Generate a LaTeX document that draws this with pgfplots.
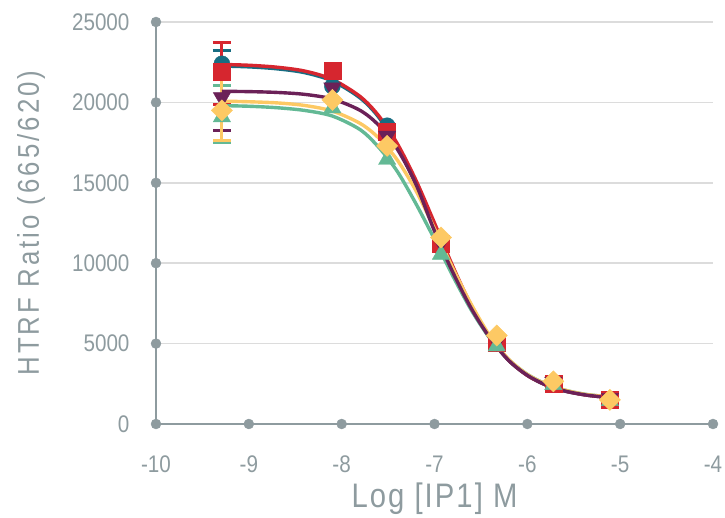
\documentclass[border=0pt]{standalone}
\usepackage{fontspec}
\setmainfont{Liberation Sans}[FakeStretch=0.86]
\usepackage{pgfplots}
\pgfplotsset{compat=1.18}

\definecolor{axisgray}{HTML}{8E9B9F}
\definecolor{gridgray}{HTML}{DCDCDC}
\definecolor{cteal}{HTML}{176D82}
\definecolor{cred}{HTML}{D6262F}
\definecolor{cpurple}{HTML}{6B2158}
\definecolor{cgreen}{HTML}{63B995}
\definecolor{cyellow}{HTML}{FDC964}

\pgfplotsset{
  ebar/.style={only marks, mark=none, forget plot,
    error bars/.cd, y dir=both, y explicit,
    error bar style={line width=3pt, color=#1},
    error mark options={rotate=90, mark size=9pt, line width=3pt, color=#1}},
  fitline/.style={no markers, smooth, line width=3.4pt, color=#1},
}

\begin{document}
\begin{tikzpicture}
\useasboundingbox (0,0) rectangle (725pt,518pt);
\begin{axis}[
  at={(156pt,94pt)}, anchor=south west,
  scale only axis, width=557pt, height=402pt,
  xmin=-10, xmax=-4, ymin=0, ymax=25000,
  scaled y ticks=false,
  clip=false,
  axis x line*=bottom, axis y line*=left,
  axis line style={draw=axisgray, line width=2.5pt, -},
  major tick length=0pt,
  xtick={-10,-9,-8,-7,-6,-5,-4},
  xticklabels={-10,-9,-8,-7,-6,-5,-4},
  ytick={0,5000,10000,15000,20000,25000},
  yticklabels={0,5000,10000,15000,20000,25000},
  ymajorgrids, grid style={draw=gridgray, line width=1.5pt},
  every tick label/.append style={font=\fontsize{24}{27}\selectfont, text=axisgray},
  yticklabel style={xshift=-23pt},
  xticklabel style={yshift=-28pt},
  xlabel={Log [IP1] M},
  ylabel={HTRF Ratio (665/620)},
  xlabel style={at={(axis description cs:0.5,-0.187)}, anchor=center,
    font=\addfontfeature{LetterSpace=6}\fontsize{34}{38}\selectfont, text=axisgray},
  ylabel style={at={(axis description cs:-0.224,0.5)}, anchor=center, rotate=0,
    font=\addfontfeature{LetterSpace=10}\fontsize{30}{34}\selectfont, text=axisgray},
]
% dots on the axis lines at every tick
\addplot[only marks, mark=*, mark size=5pt, color=axisgray, forget plot]
  coordinates {(-10,0) (-9,0) (-8,0) (-7,0) (-6,0) (-5,0) (-4,0)
               (-10,5000) (-10,10000) (-10,15000) (-10,20000) (-10,25000)};

% error bars of the lowest concentration
\addplot[ebar=cteal] coordinates {(-9.29,22400) +- (0,800)};
\addplot[ebar=cred] coordinates {(-9.29,21800) +- (0,1950)};
\addplot[ebar=cpurple] coordinates {(-9.29,20150) +- (0,1870)};
\addplot[ebar=cgreen] coordinates {(-9.29,19300) +- (0,1780)};
\addplot[ebar=cyellow] coordinates {(-9.29,19550) +- (0,1900)};

% measured points
\addplot[only marks, mark=*, mark size=8pt, color=cteal] coordinates {
  (-9.29,22400) (-8.10,21000) (-7.51,18550) (-6.93,11000) (-6.33,5000) (-5.72,2550) (-5.11,1550)};
\addplot[only marks, mark=square*, mark size=8.5pt, color=cred] coordinates {
  (-9.29,21900) (-8.10,22000) (-7.51,18200) (-6.93,11200) (-6.33,5050) (-5.72,2500) (-5.11,1500)};
\addplot[only marks, mark=triangle*, mark size=10pt, mark options={rotate=180}, color=cpurple] coordinates {
  (-9.29,20300) (-8.10,20900) (-7.51,17900) (-6.93,11300) (-6.33,5150) (-5.72,2600) (-5.11,1600)};
\addplot[only marks, mark=triangle*, mark size=10pt, color=cgreen] coordinates {
  (-9.29,19100) (-8.10,19650) (-7.51,16450) (-6.93,10550) (-6.33,4850) (-5.72,2450) (-5.11,1450)};
\addplot[only marks, mark=square*, mark size=7.5pt, mark options={rotate=45}, color=cyellow] coordinates {
  (-9.29,19500) (-8.10,20150) (-7.51,17300) (-6.93,11600) (-6.33,5500) (-5.72,2650) (-5.11,1500)};

% fitted dose-response curves
\addplot[fitline=cteal] coordinates {
  (-9.29,22260) (-9.0,22210) (-8.7,22090) (-8.4,21850) (-8.1,21330) (-7.8,20270)
  (-7.6,19070) (-7.4,17250) (-7.2,14950) (-7.0,12300) (-6.8,9600) (-6.6,7250)
  (-6.4,5350) (-6.2,3950) (-6.0,3020) (-5.8,2420) (-5.6,2050) (-5.4,1830) (-5.25,1720) (-5.11,1650)};
\addplot[fitline=cred] coordinates {
  (-9.29,22360) (-9.0,22310) (-8.7,22190) (-8.4,21950) (-8.1,21430) (-7.8,20360)
  (-7.6,19160) (-7.4,17430) (-7.2,15160) (-7.0,12500) (-6.8,9770) (-6.6,7320)
  (-6.4,5370) (-6.2,3960) (-6.0,3020) (-5.8,2430) (-5.6,2060) (-5.4,1830) (-5.25,1720) (-5.11,1650)};
\addplot[fitline=cgreen] coordinates {
  (-9.29,19800) (-9.0,19760) (-8.7,19670) (-8.4,19500) (-8.1,19150) (-7.8,18300)
  (-7.6,17200) (-7.4,15700) (-7.2,13700) (-7.0,11490) (-6.8,9180) (-6.6,7050)
  (-6.4,5300) (-6.2,4000) (-6.0,3090) (-5.8,2490) (-5.6,2110) (-5.4,1870) (-5.25,1760) (-5.11,1680)};
\addplot[fitline=cyellow] coordinates {
  (-9.29,20080) (-9.0,20040) (-8.7,19970) (-8.4,19810) (-8.1,19460) (-7.8,18690)
  (-7.6,17780) (-7.4,16410) (-7.2,14510) (-7.0,12150) (-6.8,9650) (-6.6,7400)
  (-6.4,5450) (-6.2,4020) (-6.0,3080) (-5.8,2480) (-5.6,2110) (-5.4,1860) (-5.25,1760) (-5.11,1680)};
\addplot[fitline=cpurple] coordinates {
  (-9.29,20690) (-9.0,20670) (-8.7,20620) (-8.4,20500) (-8.1,20210) (-7.8,19500)
  (-7.6,18570) (-7.4,17090) (-7.2,14910) (-7.0,12000) (-6.8,9400) (-6.6,7150)
  (-6.4,5330) (-6.2,3950) (-6.0,3030) (-5.8,2430) (-5.6,2060) (-5.4,1830) (-5.25,1720) (-5.11,1650)};
\end{axis}
\end{tikzpicture}
\end{document}
